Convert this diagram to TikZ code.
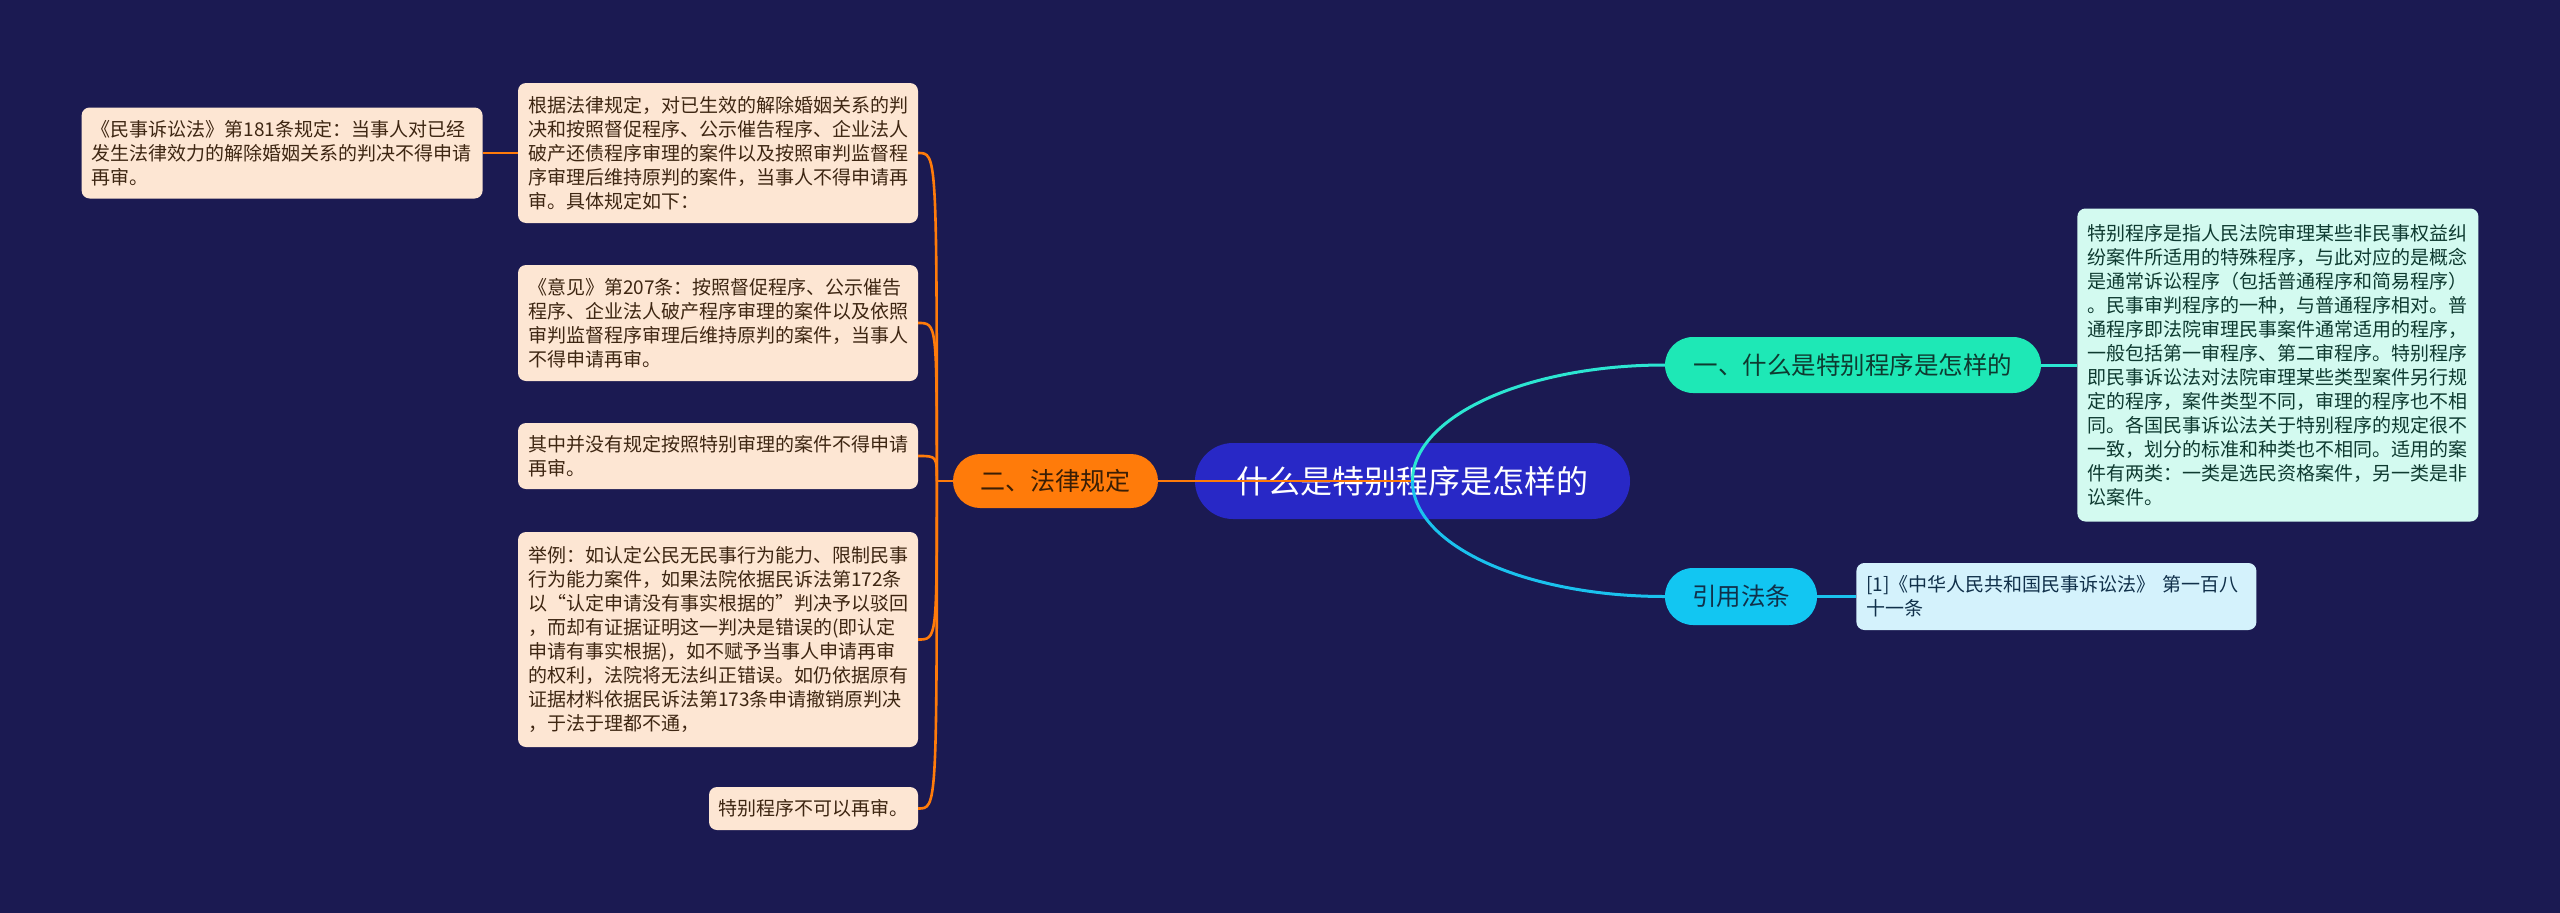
\documentclass[tikz,border=0pt]{standalone}
\usepackage{fontspec}
\setmainfont{Noto Sans CJK SC}
\usepackage{tikz}
\usetikzlibrary{positioning}

\definecolor{bgnavy}{HTML}{1B1A52}
\definecolor{rootblue}{HTML}{2828C6}
\definecolor{laworange}{HTML}{FF7B0A}
\definecolor{lawtext}{HTML}{3A1E05}
\definecolor{leafpeach}{HTML}{FDE6D3}
\definecolor{leaftext}{HTML}{3E2612}
\definecolor{defgreen}{HTML}{1EE8B6}
\definecolor{defmint}{HTML}{D3FAF0}
\definecolor{deftext}{HTML}{0E3A30}
\definecolor{citecyan}{HTML}{12C6F2}
\definecolor{citepale}{HTML}{D4F2FC}
\definecolor{citetext}{HTML}{10304A}
\definecolor{curveteal}{HTML}{2CE6D2}
\definecolor{curvesky}{HTML}{1AC2EE}

\begin{document}
\begin{tikzpicture}[x=1pt, y=1pt,
  topic/.style={rectangle, inner sep=0pt, align=center},
  leaf/.style={rectangle, rounded corners=8pt, fill=leafpeach, text=leaftext, inner xsep=10pt, inner ysep=0pt, align=left, font=\fontsize{19}{24}\selectfont},
  lawline/.style={draw=laworange, line width=2.6pt},
  tealline/.style={draw=curveteal, line width=3pt},
  skyline/.style={draw=curvesky, line width=3pt}]
\fill[bgnavy] (0,0) rectangle (2560,-913);
\useasboundingbox (0,0) rectangle (2560,-913);

% root and main topics
\node[topic, fill=rootblue, text=white, rounded corners=38pt, minimum width=435pt, minimum height=76pt, font=\fontsize{32}{36}\selectfont] (root) at (1412.5,-481) {什么是特别程序是怎样的};
\node[topic, fill=laworange, text=lawtext, rounded corners=27pt, minimum width=205pt, minimum height=54pt, font=\fontsize{25}{30}\selectfont] (law) at (1055.5,-481) {二、法律规定};
\node[topic, fill=defgreen, text=deftext, rounded corners=28pt, minimum width=376pt, minimum height=56pt, font=\fontsize{24.5}{30}\selectfont] (def) at (1853,-365) {一、什么是特别程序是怎样的};
\node[topic, fill=citecyan, text=citetext, rounded corners=28pt, minimum width=152pt, minimum height=57pt, font=\fontsize{24.5}{30}\selectfont] (cite) at (1741,-596.5) {引用法条};

% right side details
\node[leaf, fill=defmint, text=deftext, text width=381pt, minimum height=313pt, right=36pt of def] (defbox) {特别程序是指人民法院审理某些非民事权益纠\\纷案件所适用的特殊程序，与此对应的是概念\\是通常诉讼程序（包括普通程序和简易程序）\\。民事审判程序的一种，与普通程序相对。普\\通程序即法院审理民事案件通常适用的程序，\\一般包括第一审程序、第二审程序。特别程序\\即民事诉讼法对法院审理某些类型案件另行规\\定的程序，案件类型不同，审理的程序也不相\\同。各国民事诉讼法关于特别程序的规定很不\\一致，划分的标准和种类也不相同。适用的案\\件有两类：一类是选民资格案件，另一类是非\\讼案件。};
\node[leaf, fill=citepale, text=citetext, text width=380pt, minimum height=67pt, right=39pt of cite] (citebox) {[1]《中华人民共和国民事诉讼法》 第一百八\\十一条};

% left side details
\node[leaf, text width=380pt, minimum height=140pt] (b) at (718,-153) {根据法律规定，对已生效的解除婚姻关系的判\\决和按照督促程序、公示催告程序、企业法人\\破产还债程序审理的案件以及按照审判监督程\\序审理后维持原判的案件，当事人不得申请再\\审。具体规定如下：};
\node[leaf, text width=381pt, minimum height=91pt, left=35pt of b] (a) {《民事诉讼法》第181条规定：当事人对已经\\发生法律效力的解除婚姻关系的判决不得申请\\再审。};
\node[leaf, text width=380pt, minimum height=116pt] (c) at (718,-323) {《意见》第207条：按照督促程序、公示催告\\程序、企业法人破产程序审理的案件以及依照\\审判监督程序审理后维持原判的案件，当事人\\不得申请再审。};
\node[leaf, text width=380pt, minimum height=66pt] (d) at (718,-456) {其中并没有规定按照特别审理的案件不得申请\\再审。};
\node[leaf, text width=380pt, minimum height=215pt] (e) at (718,-639.5) {举例：如认定公民无民事行为能力、限制民事\\行为能力案件，如果法院依据民诉法第172条\\以“认定申请没有事实根据的”判决予以驳回\\，而却有证据证明这一判决是错误的(即认定\\申请有事实根据)，如不赋予当事人申请再审\\的权利，法院将无法纠正错误。如仍依据原有\\证据材料依据民诉法第173条申请撤销原判决\\，于法于理都不通，};
\node[leaf, text width=190pt, inner xsep=9.5pt, minimum height=43pt] (f) at (813.5,-808.5) {特别程序不可以再审。};

% connectors
\coordinate (trunk) at ([xshift=-16pt]law.west);
\draw[lawline] (law.west) -- (trunk);
\foreach \nm in {b,c,d,e,f}
  \draw[lawline] (trunk) .. controls (trunk |- \nm.east) and (trunk |- \nm.east) .. (\nm.east);
\draw[lawline] (a.east) -- (b.west);
\draw[lawline] (law.east) -- (root.center);
\draw[tealline] (root.center) .. controls +(0,64) and +(-140,0) .. (def.west);
\draw[skyline] (root.center) .. controls +(0,-64) and +(-140,0) .. (cite.west);
\draw[tealline] (def.east) -- (defbox.west);
\draw[skyline] (cite.east) -- (citebox.west);
\end{tikzpicture}
\end{document}
